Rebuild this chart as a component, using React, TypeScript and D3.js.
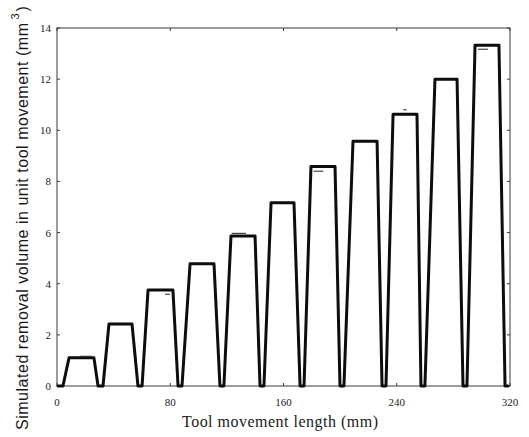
import React from "react";
import * as d3 from "d3";

// ---- data (mm / mm^3) ----
const pulseHeights = [1.1, 2.42, 3.75, 4.78, 5.87, 7.17, 8.58, 9.57, 10.63, 12.0, 13.33];
const riseStarts = [4.2, 32.5, 60.1, 88.3, 117.9, 146.2, 174.5, 202.7, 232.4, 259.9, 289.6];
const topStarts = [8.5, 36.7, 64.3, 94.0, 122.9, 151.2, 179.4, 209.1, 237.4, 267.0, 295.3];
const topEnds = [26.1, 53.0, 81.9, 110.9, 139.9, 167.4, 196.4, 226.1, 254.3, 282.6, 312.2];
const fallEnds = [29.0, 57.2, 85.5, 115.1, 143.4, 171.7, 199.9, 229.6, 257.1, 286.8, 316.5];
const lineStartX = 0.8;
const lineEndX = 318.5;

const markX1 = [16.3, 76.3, 123.4, 181.2, 244.6, 297.4];
const markX2 = [24.7, 79.8, 133.5, 188.1, 247.0, 304.4];
const markY = [1.17, 3.59, 5.97, 8.4, 10.8, 13.17];

const xTicks = [0, 80, 160, 240, 320];
const yTicks = [0, 2, 4, 6, 8, 10, 12, 14];

const W = 529;
const H = 437;
const M = { left: 57, right: 510, top: 28, bottom: 386 };

export default function App() {
  const x = d3.scaleLinear().domain([0, 320]).range([M.left, M.right]);
  const y = d3.scaleLinear().domain([0, 14]).range([M.bottom, M.top]);

  const pts: [number, number][] = [[lineStartX, 0]];
  pulseHeights.forEach((h, i) => {
    pts.push([riseStarts[i], 0]);
    pts.push([topStarts[i], h]);
    pts.push([topEnds[i], h]);
    pts.push([fallEnds[i], 0]);
  });
  pts.push([lineEndX, 0]);

  const line = d3
    .line<[number, number]>()
    .x((d) => x(d[0]))
    .y((d) => y(d[1]))
    .curve(d3.curveLinear);

  const axisColor = "#3a3a3a";
  const textColor = "#1a1a1a";
  const tick = 3;

  return (
    <svg
      width={W}
      height={H}
      style={{ position: "absolute", left: 0, top: 0, background: "#fff" }}
    >
      {/* frame */}
      <rect
        x={M.left}
        y={M.top}
        width={M.right - M.left}
        height={M.bottom - M.top}
        fill="none"
        stroke={axisColor}
        strokeWidth={1}
      />
      {/* x ticks */}
      {xTicks.map((t) => (
        <g key={"x" + t}>
          <line x1={x(t)} x2={x(t)} y1={M.bottom} y2={M.bottom - tick} stroke={axisColor} />
          <line x1={x(t)} x2={x(t)} y1={M.top} y2={M.top + tick} stroke={axisColor} />
          <text
            x={x(t)}
            y={406}
            textAnchor="middle"
            fontFamily="'Liberation Serif', serif"
            fontSize={11}
            fill={textColor}
          >
            {t}
          </text>
        </g>
      ))}
      {/* y ticks */}
      {yTicks.map((t) => (
        <g key={"y" + t}>
          <line x1={M.left} x2={M.left + tick} y1={y(t)} y2={y(t)} stroke={axisColor} />
          <line x1={M.right} x2={M.right - tick} y1={y(t)} y2={y(t)} stroke={axisColor} />
          <text
            x={51}
            y={y(t) + 4}
            textAnchor="end"
            fontFamily="'Liberation Serif', serif"
            fontSize={11}
            fill={textColor}
          >
            {t}
          </text>
        </g>
      ))}
      {/* reference marks */}
      {markY.map((v, i) => (
        <line
          key={"m" + i}
          x1={x(markX1[i])}
          x2={x(markX2[i])}
          y1={y(v)}
          y2={y(v)}
          stroke={i === 0 ? "#777" : "#222"}
          strokeWidth={1}
        />
      ))}
      {/* main line */}
      <path
        d={line(pts) || ""}
        fill="none"
        stroke="#0d0d0d"
        strokeWidth={3}
        strokeLinejoin="round"
        strokeLinecap="round"
      />
      {/* x title */}
      <text
        x={280}
        y={427}
        textAnchor="middle"
        fontFamily="'Liberation Serif', serif"
        fontSize={16}
        textLength={196}
        lengthAdjust="spacing"
        fill={textColor}
      >
        Tool movement length (mm)
      </text>
      {/* y title */}
      <text
        transform="translate(28,430) rotate(-90)"
        fontFamily="'Liberation Sans', Arial, sans-serif"
        fontSize={16}
        fill={textColor}
      >
        <tspan textLength={407} lengthAdjust="spacing">
          Simulated removal volume in unit tool movement (mm
        </tspan>
        <tspan dx={3} dy={-9} fontSize={11}>
          3
        </tspan>
        <tspan dx={2} dy={9}>
          )
        </tspan>
      </text>
    </svg>
  );
}
